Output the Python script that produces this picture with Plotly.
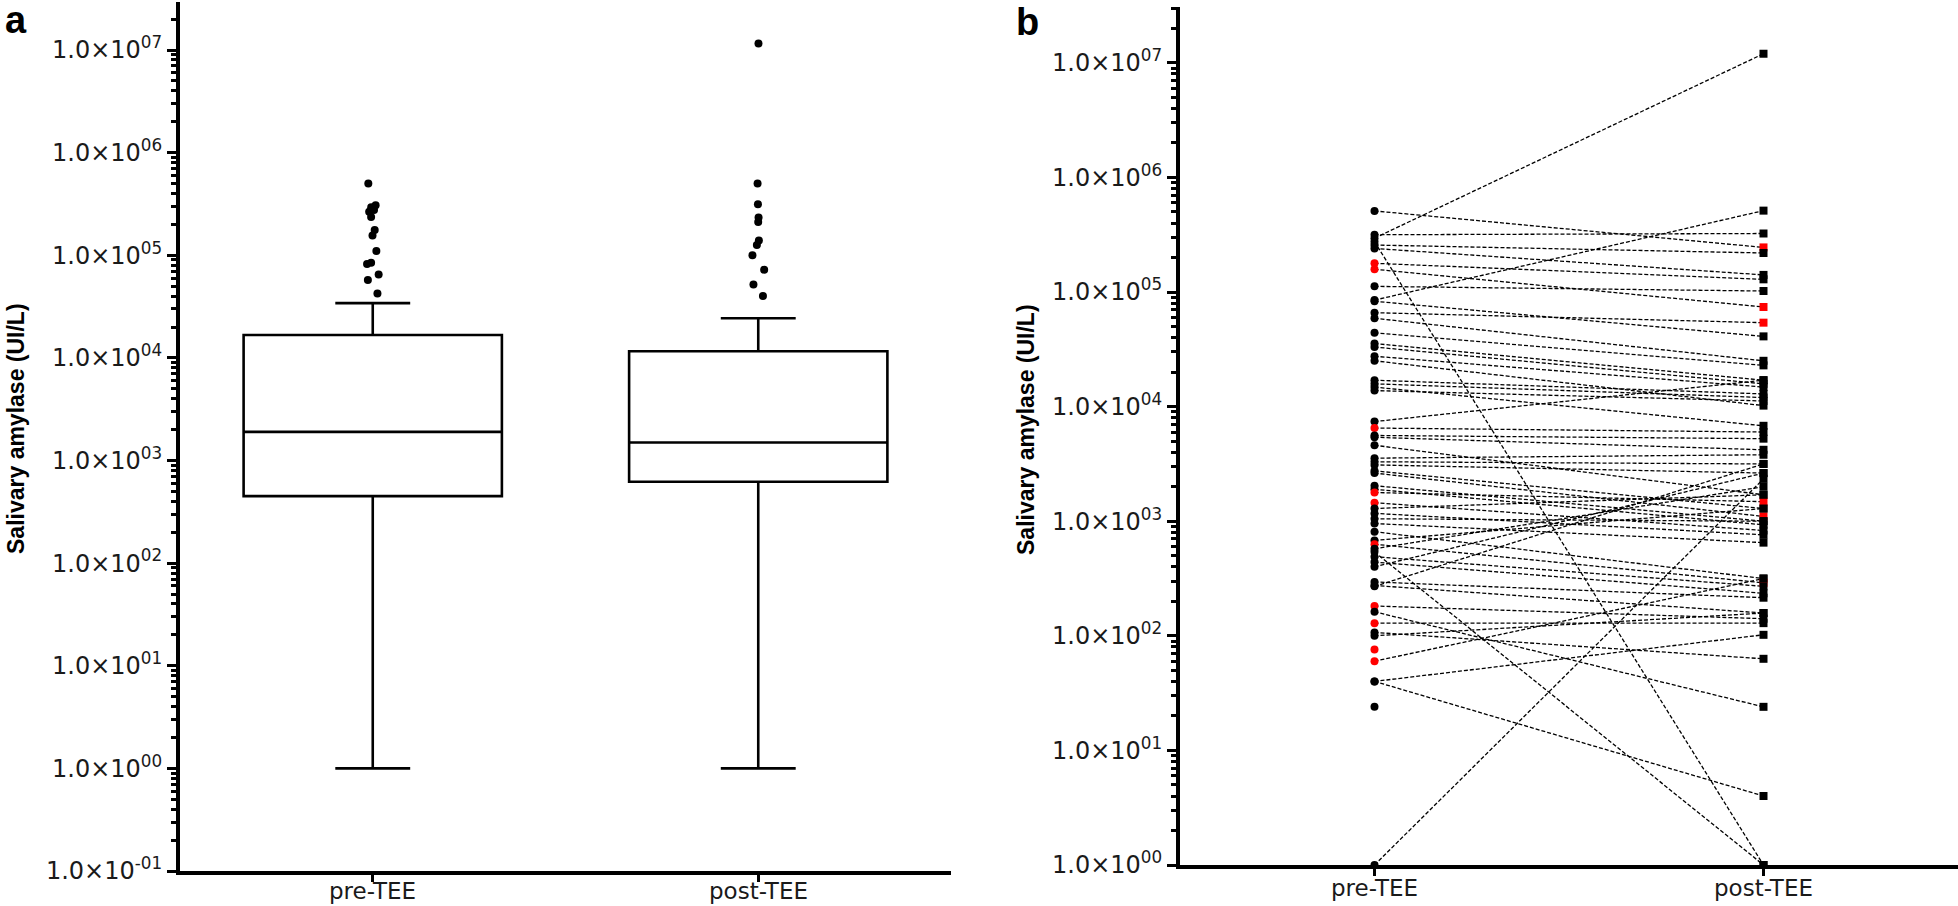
import plotly.graph_objects as go

W, H = 1958, 906

categories = ["pre-TEE", "post-TEE"]

# ---------- Panel a: box statistics ----------
box_q1 = [450, 620]
box_median = [1900, 1500]
box_q3 = [16700, 11600]
box_lower = [1, 1]
box_upper = [34200, 24300]

pre_outliers = [501000, 308000, 293000, 276000, 266000, 236000, 176000, 156000,
                110000, 84500, 82000, 65100, 57300, 42500]
post_outliers = [11600000, 501000, 315000, 234000, 211000, 139000, 126000,
                 100000, 72300, 52000, 40000]

# ---------- Panel b: paired values (pre -> post), 1 = red marker ----------
pair_pre = [510000, 316000, 295000, 275000, 257000, 240000, 178000, 158000, 112000, 85000,
            83000, 66000, 59000, 44000, 35500, 33100, 27500, 25100, 17000, 15800,
            14800, 13800, 7400, 6500, 5600, 5400, 4600, 3550, 3300, 3100,
            2750, 2630, 2040, 1900, 1780, 1450, 1290, 1170, 1050, 955,
            810, 680, 630, 575, 540, 490, 440, 400, 295, 275,
            270, 182, 162, 129, 107, 100, 76, 60, 40, 40,
            24, 1]
pair_post = [245000, 324000, 12000000, 1, 219000, 141000, 129000, 74000, 102000, 513000,
             41000, 54000, 25100, 22900, 17000, 15800, 14800, 10200, 12900, 12000,
             6800, 11200, 17000, 6000, 5250, 4200, 1700, 3800, 3160, 2630,
             1290, 1100, 1000, 930, 1480, 830, 1700, 760, 1000, 650,
             316, 1290, 290, 2000, 1, 270, 235, 2630, 215, 158,
             3160, 141, 24, 129, 63, 158, None, 316, 102, 4,
             None, 2340]
pre_red = [0, 0, 0, 0, 0, 0, 1, 1, 0, 0,
           0, 0, 0, 0, 0, 0, 0, 0, 0, 0,
           0, 0, 0, 1, 0, 0, 0, 0, 0, 0,
           0, 0, 0, 0, 1, 1, 0, 0, 0, 0,
           0, 0, 1, 0, 0, 0, 0, 0, 0, 0,
           0, 1, 0, 1, 0, 0, 1, 1, 0, 0,
           0, 0]
post_red = [1, 0, 0, 0, 0, 0, 0, 1, 0, 0,
            0, 1, 0, 0, 0, 0, 0, 0, 0, 0,
            0, 0, 0, 0, 0, 0, 0, 0, 0, 0,
            0, 1, 0, 0, 1, 0, 0, 0, 0, 0,
            0, 0, 1, 0, 0, 0, 0, 0, 0, 0,
            0, 0, 0, 0, 0, 0, 0, 0, 0, 0,
            0, 0]

y_title = "Salivary amylase (UI/L)"

RED = "#ff0000"
BLACK = "#000000"
TXT = "#1a1a1a"
CLEAR = "rgba(0,0,0,0)"

fig = go.Figure()

# ---- panel a boxes ----
for i, cat in enumerate(categories):
    fig.add_trace(go.Box(
        x=[cat], q1=[box_q1[i]], median=[box_median[i]], q3=[box_q3[i]],
        lowerfence=[box_lower[i]], upperfence=[box_upper[i]],
        boxpoints=False, width=0.67, whiskerwidth=0.29,
        line=dict(color=BLACK, width=2.6), fillcolor="white",
        xaxis="x", yaxis="y", showlegend=False, hoverinfo="skip"))

# outlying points, spread slightly sideways by the box trace's own jitter
for cat, vals in ((categories[0], pre_outliers), (categories[1], post_outliers)):
    fig.add_trace(go.Box(
        x=[cat] * len(vals), y=vals, boxpoints="all", jitter=0.07, pointpos=0,
        width=0.67, line=dict(color=CLEAR, width=0), fillcolor=CLEAR,
        marker=dict(color=BLACK, size=8, line=dict(width=0)),
        xaxis="x", yaxis="y", showlegend=False, hoverinfo="y"))

# ---- panel b paired lines ----
lx, ly = [], []
for a, b in zip(pair_pre, pair_post):
    if b is None:
        continue
    lx += [categories[0], categories[1], None]
    ly += [a, b, None]
fig.add_trace(go.Scatter(x=lx, y=ly, mode="lines", connectgaps=False,
                         line=dict(color=BLACK, width=1.3, dash="4px,2px"),
                         xaxis="x2", yaxis="y2", showlegend=False, cliponaxis=False,
                         hoverinfo="skip"))

pre_cols = [RED if r else BLACK for r in pre_red]
fig.add_trace(go.Scatter(x=[categories[0]] * len(pair_pre), y=pair_pre, mode="markers",
                         marker=dict(color=pre_cols, size=8, symbol="circle"),
                         xaxis="x2", yaxis="y2", showlegend=False, cliponaxis=False))
post_x = [categories[1] for b in pair_post if b is not None]
post_y = [b for b in pair_post if b is not None]
post_cols = [RED if r else BLACK for b, r in zip(pair_post, post_red) if b is not None]
fig.add_trace(go.Scatter(x=post_x, y=post_y, mode="markers",
                         marker=dict(color=post_cols, size=8, symbol="square"),
                         xaxis="x2", yaxis="y2", showlegend=False, cliponaxis=False))

# ---- axes ----
def exp_label(k):
    e = f"{k:02d}" if k >= 0 else f"-{abs(k):02d}"
    return f"1.0×10<sup>{e}</sup>"

major_vals = [10.0 ** k for k in range(-1, 8)]
major_text = [exp_label(k) for k in range(-1, 8)]
minor_vals = [m * 10.0 ** k for k in range(-1, 8) for m in range(2, 10)]


def yaxis_style(domain, rng, fsize, anchor):
    return dict(
        type="log", domain=domain, range=rng, anchor=anchor,
        showline=True, linecolor=BLACK, linewidth=4,
        ticks="outside", ticklen=9, tickwidth=3, tickcolor=BLACK,
        tickmode="array", tickvals=major_vals, ticktext=major_text,
        tickfont=dict(family="DejaVu Sans", size=fsize, color=TXT),
        showgrid=False, zeroline=False, automargin=False,
        minor=dict(ticks="outside", ticklen=5, tickwidth=2.5, tickcolor=BLACK,
                   tickvals=minor_vals, showgrid=False),
    )


def xaxis_style(domain, anchor):
    return dict(
        type="category", domain=domain, range=[-0.5, 1.5], anchor=anchor,
        categoryorder="array", categoryarray=categories,
        showline=True, linecolor=BLACK, linewidth=4,
        ticks="outside", ticklen=7, tickwidth=3, tickcolor=BLACK,
        showticklabels=False,
        showgrid=False, zeroline=False, automargin=False,
    )


annotations = [
    dict(text="<b>a</b>", x=16 / W, y=1 - 20 / H, xref="paper", yref="paper",
         showarrow=False, xanchor="center", yanchor="middle",
         font=dict(family="Liberation Sans", size=38, color=BLACK)),
    dict(text="<b>b</b>", x=1027 / W, y=1 - 22 / H, xref="paper", yref="paper",
         showarrow=False, xanchor="center", yanchor="middle",
         font=dict(family="Liberation Sans", size=38, color=BLACK)),
    dict(text=f"<b>{y_title}</b>", x=16 / W, y=1 - 429 / H, xref="paper", yref="paper",
         showarrow=False, xanchor="center", yanchor="middle", textangle=-90,
         font=dict(family="Liberation Sans", size=23, color=BLACK)),
    dict(text=f"<b>{y_title}</b>", x=1026 / W, y=1 - 430 / H, xref="paper", yref="paper",
         showarrow=False, xanchor="center", yanchor="middle", textangle=-90,
         font=dict(family="Liberation Sans", size=23, color=BLACK)),
]
# category labels under each x axis
for xref, ypix in (("x", 905), ("x2", 902)):
    for cat in categories:
        annotations.append(dict(
            text=cat, x=cat, y=1 - ypix / H, xref=xref, yref="paper",
            showarrow=False, xanchor="center", yanchor="bottom", borderpad=0,
            font=dict(family="DejaVu Sans", size=23, color=TXT)))

fig.update_layout(
    width=W, height=H,
    margin=dict(l=0, r=0, t=0, b=0),
    paper_bgcolor="white", plot_bgcolor="white",
    showlegend=False, boxmode="overlay",
    xaxis=xaxis_style([180 / W, 951 / W], "y"),
    yaxis=yaxis_style([(H - 871) / H, (H - 2) / H], [-1, 7.468], 24, "x"),
    xaxis2=xaxis_style([1180 / W, 1.0], "y2"),
    yaxis2=yaxis_style([(H - 865) / H, (H - 7) / H], [0, 7.487], 24, "x2"),
    annotations=annotations,
)

# remove the browser's default page margin so the figure sits at the page origin
fig.write_html("out.html",
               config={"displayModeBar": False},
               post_script="document.body.style.margin='0';"
                           "document.body.style.overflow='hidden';")
